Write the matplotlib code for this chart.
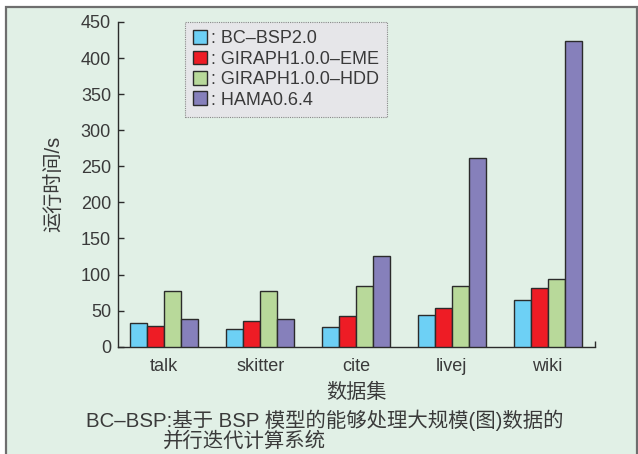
import matplotlib
matplotlib.use("Agg")
import matplotlib.pyplot as plt
import numpy as np
from matplotlib.patches import Patch, Rectangle

plt.rcParams["font.family"] = ["Liberation Sans", "Noto Sans CJK SC", "DejaVu Sans"]

# data (run time in seconds)
datasets = ["talk", "skitter", "cite", "livej", "wiki"]
systems = ["BC–BSP2.0", "GIRAPH1.0.0–EME", "GIRAPH1.0.0–HDD", "HAMA0.6.4"]
bc_bsp = [32.4, 24.1, 27.3, 44.3, 64.7]
giraph_eme = [28.3, 35.6, 42.5, 53.2, 80.9]
giraph_hdd = [77.6, 77.6, 83.8, 83.8, 93.8]
hama = [38.8, 37.7, 126.2, 261.1, 423.2]
yticks = [0, 50, 100, 150, 200, 250, 300, 350, 400, 450]

colors = ["#6dd0f5", "#ee1c25", "#b8d99a", "#8680bb"]
bg = "#e1f0e6"
ink = "#2b2b2b"
txt = "#3a3a3a"

W, H = 638, 454
fig = plt.figure(figsize=(W / 100, H / 100), dpi=100, facecolor="white")

# page panel with border
fig.patches.append(Rectangle((6 / W, -0.05), (637 - 6) / W, 1.05 - 7 / H,
                             transform=fig.transFigure, facecolor=bg,
                             edgecolor="#6e6e6e", linewidth=1.6, zorder=-10))

ax = fig.add_axes([118 / W, 1 - 346.7 / H, (595.3 - 118) / W, (346.7 - 22) / H])
ax.set_facecolor("none")

x = np.arange(len(datasets))
width = 0.178
series = [bc_bsp, giraph_eme, giraph_hdd, hama]
for i, (vals, c) in enumerate(zip(series, colors)):
    ax.bar(x + (i - 1.5) * width, vals, width, color=c, edgecolor=ink,
           linewidth=1.0, zorder=3)

ax.set_xlim(-0.483, 4.497)
ax.set_ylim(0, 450)
ax.set_yticks(yticks)
ax.set_xticks(x)
ax.set_xticklabels(datasets)
ax.set_xticks([4.497], minor=True)

for s in ["top", "right"]:
    ax.spines[s].set_visible(False)
for s in ["left", "bottom"]:
    ax.spines[s].set_color(ink)
    ax.spines[s].set_linewidth(1.0)

ax.tick_params(axis="y", direction="in", length=4, width=1, color=ink,
               labelsize=13, labelcolor=txt, pad=5)
ax.tick_params(axis="x", which="major", length=0, labelsize=13,
               labelcolor=txt, pad=8)
ax.tick_params(axis="x", which="minor", direction="in", length=4, width=1, color=ink)

ax.set_xlabel("数据集", fontsize=14.5, color=txt, labelpad=6)
ax.set_ylabel("运行时间/s", fontsize=14.5, color=txt, labelpad=12)

handles = [Patch(facecolor=c, edgecolor=ink, linewidth=1.0) for c in colors]
leg = ax.legend(handles, [": " + s for s in systems], loc="upper left",
                bbox_to_anchor=(0.14, 1.0), borderaxespad=0, fontsize=13,
                handlelength=0.8, handleheight=0.8, handletextpad=0.2,
                labelspacing=0.18, borderpad=0.45, fancybox=False,
                framealpha=1, facecolor="#e6e6e9", edgecolor="#8a8a8a")
leg.get_frame().set_linestyle((0, (1, 1)))
leg.get_frame().set_linewidth(0.8)
for t in leg.get_texts():
    t.set_color(txt)

fig.text(86 / W, 1 - 420 / H, "BC–BSP:基于 BSP 模型的能够处理大规模(图)数据的",
         fontsize=14.7, color=txt, va="center", ha="left")
fig.text(163 / W, 1 - 441.5 / H, "并行迭代计算系统",
         fontsize=14.7, color=txt, va="center", ha="left")

fig.savefig("out.png", dpi=100)
